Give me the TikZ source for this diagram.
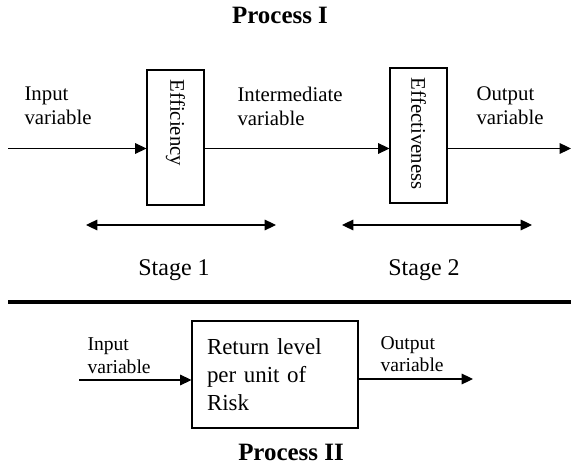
\documentclass[tikz,border=0pt]{standalone}
\usepackage{fontspec}
\setmainfont{Liberation Serif}
\usetikzlibrary{arrows.meta,positioning,calc}

\begin{document}
\begin{tikzpicture}[x=0.75pt,y=-0.75pt,
  line width=0.8pt,
  arr/.style={-{Triangle[length=8.5pt,width=8pt]}},
  dblarr/.style={{Triangle[length=8.5pt,width=8pt]}-{Triangle[length=8.5pt,width=8pt]}},
  stagebox/.style={draw,minimum width=42.75pt,minimum height=101.25pt,inner sep=0pt},
  boxtext/.style={rotate=-90,anchor=west,inner sep=0pt,font=\fontsize{15.6}{18}\selectfont},
  varlabel/.style={anchor=west,inner sep=0pt,align=left,font=\fontsize{15.6}{18}\selectfont},
  smalllabel/.style={anchor=west,inner sep=0pt,align=left,font=\fontsize{14.7}{17}\selectfont},
  stagelabel/.style={inner sep=0pt,font=\fontsize{18}{21}\selectfont},
  title/.style={inner sep=0pt,font=\fontsize{18.7}{22}\selectfont\bfseries}]

\useasboundingbox (0,0) rectangle (571,470);

% Process I
\node[title] (titleI) at (280,15) {Process I};

% Stage boxes
\node[stagebox] (eff) at (175.5,137.5) {};
\node[boxtext] (efftxt) at ([yshift=-7.5pt]eff.north) {Efficiency};
\node[stagebox] (effv) at (418.5,135.5) {};
\node[boxtext] (effvtxt) at ([yshift=-7.5pt]effv.north) {Effectiveness};

% Flow through the stages
\coordinate (in1) at (8,148.5);
\coordinate (out1) at (571,148.5);
\draw[arr] (in1) -- (in1 -| eff.west);
\draw[arr] (in1 -| eff.east) -- (in1 -| effv.west);
\draw[arr] (in1 -| effv.east) -- (out1);

% Labels for the variables
\node[varlabel] (inlab) at (24,106) {Input\\variable};
\node[varlabel] (midlab) at (237,106) {Intermediate\\variable};
\node[varlabel] (outlab) at (476,106) {Output\\variable};

% Stage spans
\coordinate (s1a) at (86,225);
\coordinate (s1b) at (276,225);
\coordinate (s2a) at (342,225);
\coordinate (s2b) at (532,225);
\draw[dblarr] (s1a) -- (s1b);
\draw[dblarr] (s2a) -- (s2b);
\node[stagelabel] (st1) at (174,270) {Stage 1};
\node[stagelabel] (st2) at (424,270) {Stage 2};

% Separator
\coordinate (sepa) at (8,302);
\coordinate (sepb) at (571,302);
\draw[line width=3.2pt] (sepa) -- (sepb);

% Process II
\node[draw,minimum width=124.5pt,minimum height=80.25pt,inner xsep=11.25pt,
      text width=102pt,align=left,font=\fontsize{17.2}{21}\selectfont]
  (ret) at (275,374.5) {Return level\\per unit of\\Risk};
\coordinate (in2) at (79,380);
\coordinate (out2) at (473,379);
\draw[arr] (in2) -- (in2 -| ret.west);
\draw[arr] (out2 -| ret.east) -- (out2);
\node[smalllabel] (inlab2) at (87,356) {Input\\variable};
\node[smalllabel] (outlab2) at (380,354) {Output\\variable};
\node[title] (titleII) at (291,452) {Process II};

\end{tikzpicture}
\end{document}
